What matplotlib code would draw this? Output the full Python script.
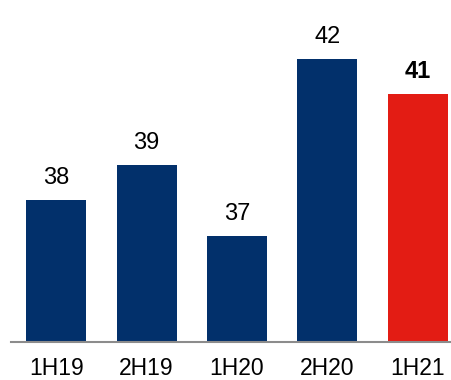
import matplotlib
matplotlib.use("Agg")
import matplotlib.pyplot as plt

categories = ["1H19", "2H19", "1H20", "2H20", "1H21"]
values = [38, 39, 37, 42, 41]
highlight = [False, False, False, False, True]

navy = "#02306b"
red = "#e31c14"

plt.rcParams["font.family"] = ["Liberation Sans", "DejaVu Sans"]

fig = plt.figure(figsize=(4.52, 3.80), dpi=100)
ax = fig.add_axes([11 / 452, 38 / 380, 452 / 452, 342 / 380])

x = list(range(len(categories)))
colors = [red if h else navy for h in highlight]
ax.bar(x, values, width=0.665, color=colors, zorder=2)

ax.set_xlim(-0.5, 4.5)
ax.set_ylim(34, 43.66)

for xi, v, h in zip(x, values, highlight):
    ax.annotate(str(v), (xi, v), xytext=(0, 11.5), textcoords="offset points",
                ha="center", va="baseline", fontsize=17,
                fontweight="bold" if h else "normal", color="black")

for side in ("top", "right", "left"):
    ax.spines[side].set_visible(False)
ax.spines["bottom"].set_color("#8c8c8c")
ax.spines["bottom"].set_linewidth(1.5)
ax.set_yticks([])
ax.set_xticks(x)
ax.set_xticklabels(categories, fontsize=16.5)
ax.tick_params(axis="x", length=0, pad=11)

fig.savefig("out.png", dpi=100)
